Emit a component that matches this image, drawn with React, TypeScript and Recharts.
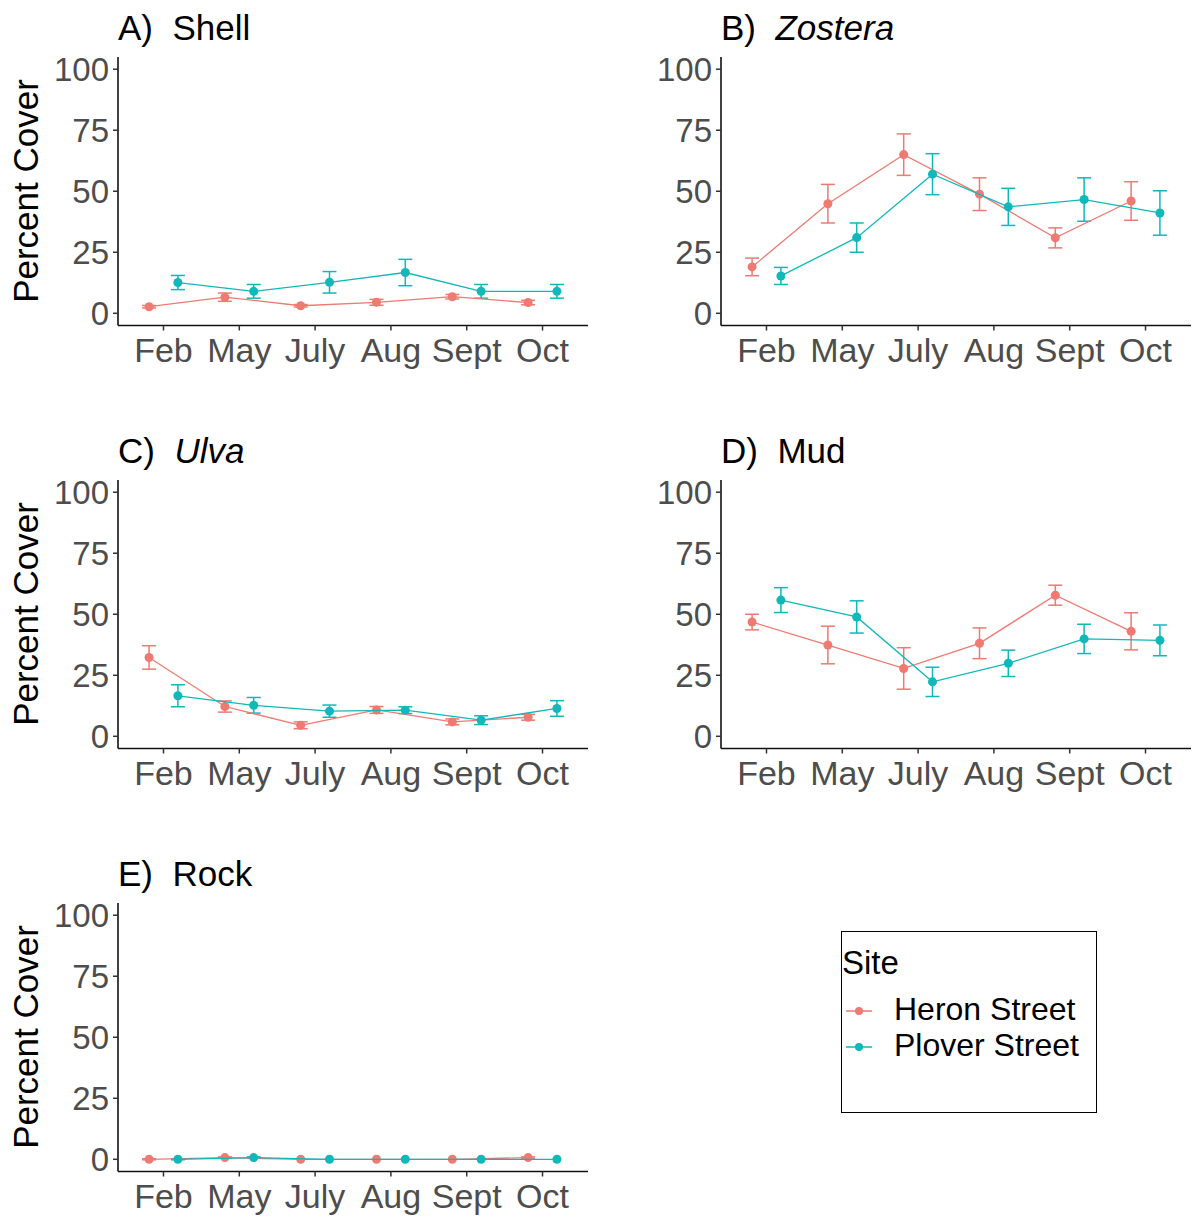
import { ComposedChart, Scatter, XAxis, YAxis, ZAxis, ErrorBar } from "recharts";

const months = ["Feb", "May", "July", "Aug", "Sept", "Oct"];
const yTicks = [0, 25, 50, 75, 100];
const sites = ["Heron Street", "Plover Street"];

// A) Shell
const shellHeron = [2.7, 6.6, 3.1, 4.5, 6.8, 4.4];
const shellHeronSe = [0.5, 1.7, 0.5, 1.2, 0.9, 0.9];
const shellPlover = [12.6, 9.0, 12.7, 16.7, 9.0, 9.0];
const shellPloverSe = [2.9, 2.8, 4.4, 5.4, 2.8, 2.8];

// B) Zostera
const zosteraHeron = [19.0, 44.9, 65.0, 48.8, 30.9, 46.0];
const zosteraHeronSe = [3.6, 7.9, 8.5, 6.7, 4.1, 7.9];
const zosteraPlover = [15.3, 31.0, 57.0, 43.6, 46.6, 41.1];
const zosteraPloverSe = [3.5, 6.0, 8.4, 7.6, 8.9, 9.1];

// C) Ulva
const ulvaHeron = [32.3, 12.2, 4.5, 10.8, 5.9, 7.8];
const ulvaHeronSe = [4.8, 2.3, 1.4, 1.4, 1.2, 1.2];
const ulvaPlover = [16.6, 12.7, 10.3, 10.7, 6.6, 11.4];
const ulvaPloverSe = [4.5, 3.2, 2.5, 1.4, 1.8, 3.2];

// D) Mud
const mudHeron = [46.8, 37.4, 27.8, 38.1, 57.8, 43.0];
const mudHeronSe = [3.2, 7.7, 8.5, 6.3, 4.1, 7.6];
const mudPlover = [55.8, 48.9, 22.3, 29.9, 39.9, 39.3];
const mudPloverSe = [5.1, 6.6, 6.0, 5.4, 6.0, 6.3];

// E) Rock
const rockHeron = [0, 0.7, 0, 0, 0, 0.7];
const rockHeronSe = [0.2, 0.3, 0, 0, 0, 0.3];
const rockPlover = [0, 0.7, 0, 0, 0, 0];
const rockPloverSe = [0.2, 0.3, 0, 0, 0, 0];

const HERON = "#EE7A71";
const PLOVER = "#10B8BA";
const DODGE = 0.19;
const FONT = "'Liberation Sans', Arial, sans-serif";

type PanelProps = {
  tag: string;
  name: string;
  italic: boolean;
  yTitle: boolean;
  heron: number[];
  heronSe: number[];
  plover: number[];
  ploverSe: number[];
  left: number;
  top: number;
};

function Panel({ tag, name, italic, yTitle, heron, heronSe, plover, ploverSe, left, top }: PanelProps) {
  const heronData = heron.map((v, i) => ({ pos: i + 1 - DODGE, cover: v, se: heronSe[i] }));
  const ploverData = plover.map((v, i) => ({ pos: i + 1 + DODGE, cover: v, se: ploverSe[i] }));
  const xTicks = months.map((_, i) => i + 1);

  return (
    <div style={{ position: "absolute", left, top, width: 600, height: 372 }}>
      <div
        style={{
          position: "absolute",
          left: 118,
          top: 10,
          fontSize: 35,
          lineHeight: 1,
          whiteSpace: "pre",
          color: "#000",
        }}
      >
        {tag + "  "}
        <span style={{ fontStyle: italic ? "italic" : "normal" }}>{name}</span>
      </div>
      {yTitle && (
        <div
          style={{
            position: "absolute",
            left: 25,
            top: 191,
            transform: "translate(-50%, -50%) rotate(-90deg)",
            fontSize: 35,
            lineHeight: 1,
            whiteSpace: "nowrap",
            color: "#000",
          }}
        >
          Percent Cover
        </div>
      )}
      <ComposedChart width={600} height={372} margin={{ top: 57, right: 12, bottom: 0, left: 0 }}>
        <XAxis
          type="number"
          dataKey="pos"
          domain={[0.4, 6.6]}
          ticks={xTicks}
          interval={0}
          tickFormatter={(v) => months[v - 1]}
          height={46.5}
          tickSize={5}
          tickMargin={7}
          tick={{ fill: "#4D4D4D", fontSize: 34 }}
          axisLine={{ stroke: "#111", strokeWidth: 1.6 }}
          tickLine={{ stroke: "#333", strokeWidth: 1.5 }}
        />
        <YAxis
          type="number"
          dataKey="cover"
          domain={[-5, 105]}
          ticks={yTicks}
          interval={0}
          width={118}
          tickSize={5}
          tickMargin={4}
          tick={{ fill: "#4D4D4D", fontSize: 33 }}
          axisLine={{ stroke: "#111", strokeWidth: 1.6 }}
          tickLine={{ stroke: "#333", strokeWidth: 1.5 }}
        />
        <ZAxis range={[50, 50]} />
        <Scatter
          name={sites[0]}
          data={heronData}
          fill={HERON}
          shape="circle"
          line={{ stroke: HERON, strokeWidth: 1.3 }}
          isAnimationActive={false}
        >
          <ErrorBar dataKey="se" direction="y" width={7} stroke={HERON} strokeWidth={1.5} isAnimationActive={false} />
        </Scatter>
        <Scatter
          name={sites[1]}
          data={ploverData}
          fill={PLOVER}
          shape="circle"
          line={{ stroke: PLOVER, strokeWidth: 1.3 }}
          isAnimationActive={false}
        >
          <ErrorBar dataKey="se" direction="y" width={7} stroke={PLOVER} strokeWidth={1.5} isAnimationActive={false} />
        </Scatter>
      </ComposedChart>
    </div>
  );
}

function LegendKey({ color }: { color: string }) {
  return (
    <svg width={30} height={12} style={{ display: "block" }}>
      <line x1={1} y1={6} x2={27} y2={6} stroke={color} strokeWidth={1.5} />
      <circle cx={14} cy={6} r={4} fill={color} />
    </svg>
  );
}

export default function App() {
  return (
    <div
      style={{
        position: "absolute",
        left: 0,
        top: 0,
        width: 1197,
        height: 1219,
        background: "#fff",
        fontFamily: FONT,
        overflow: "hidden",
      }}
    >
      <Panel tag="A)" name="Shell" italic={false} yTitle={true} heron={shellHeron} heronSe={shellHeronSe} plover={shellPlover} ploverSe={shellPloverSe} left={0} top={0} />
      <Panel tag="B)" name="Zostera" italic={true} yTitle={false} heron={zosteraHeron} heronSe={zosteraHeronSe} plover={zosteraPlover} ploverSe={zosteraPloverSe} left={603} top={0} />
      <Panel tag="C)" name="Ulva" italic={true} yTitle={true} heron={ulvaHeron} heronSe={ulvaHeronSe} plover={ulvaPlover} ploverSe={ulvaPloverSe} left={0} top={423} />
      <Panel tag="D)" name="Mud" italic={false} yTitle={false} heron={mudHeron} heronSe={mudHeronSe} plover={mudPlover} ploverSe={mudPloverSe} left={603} top={423} />
      <Panel tag="E)" name="Rock" italic={false} yTitle={true} heron={rockHeron} heronSe={rockHeronSe} plover={rockPlover} ploverSe={rockPloverSe} left={0} top={846} />

      {/* legend */}
      <div
        style={{
          position: "absolute",
          left: 841,
          top: 931,
          width: 256,
          height: 182,
          border: "1.5px solid #000",
          boxSizing: "border-box",
        }}
      />
      <div style={{ position: "absolute", left: 842, top: 946, fontSize: 33, lineHeight: 1, color: "#000" }}>Site</div>
      <div style={{ position: "absolute", left: 845, top: 1005 }}>
        <LegendKey color={HERON} />
      </div>
      <div style={{ position: "absolute", left: 845, top: 1041 }}>
        <LegendKey color={PLOVER} />
      </div>
      <div style={{ position: "absolute", left: 894, top: 993, fontSize: 32, lineHeight: 1, color: "#000", whiteSpace: "nowrap" }}>
        {sites[0]}
      </div>
      <div style={{ position: "absolute", left: 894, top: 1029, fontSize: 32, lineHeight: 1, color: "#000", whiteSpace: "nowrap" }}>
        {sites[1]}
      </div>
    </div>
  );
}
